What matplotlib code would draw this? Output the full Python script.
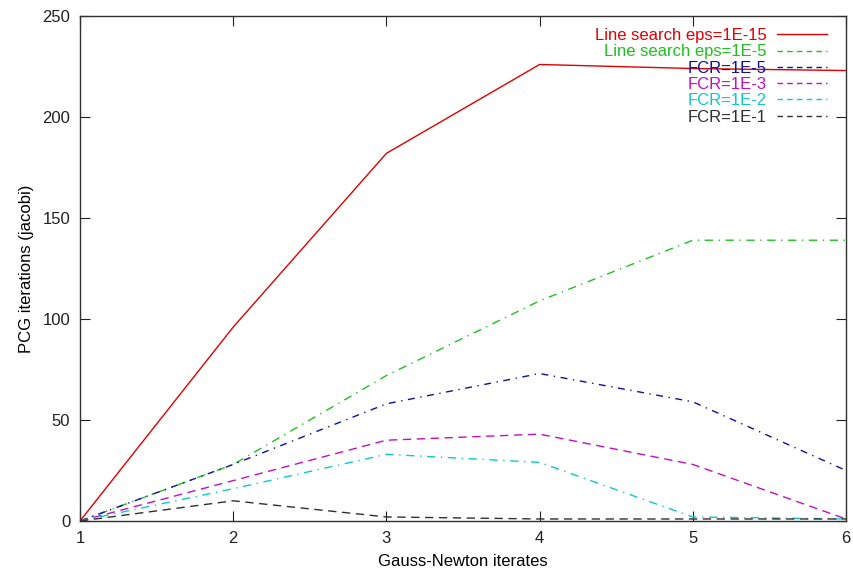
import numpy as np
import matplotlib.pyplot as plt

plt.rcParams['font.family'] = ['Liberation Sans', 'DejaVu Sans']

# Gauss-Newton iterates
x = [1, 2, 3, 4, 5, 6]

# PCG iterations for each run
ls_1e15 = [0, 96, 182, 226, 224, 223]
ls_1e5 = [0, 28, 72, 109, 139, 139]
fcr_1e5 = [0, 28, 58, 73, 59, 25]
fcr_1e3 = [0, 20, 40, 43, 28, 1]
fcr_1e2 = [0, 16, 33, 29, 2, 1]
fcr_1e1 = [0, 10, 2, 1, 1, 1]

labels = ["Line search eps=1E-15", "Line search eps=1E-5", "FCR=1E-5",
          "FCR=1E-3", "FCR=1E-2", "FCR=1E-1"]
series = [ls_1e15, ls_1e5, fcr_1e5, fcr_1e3, fcr_1e2, fcr_1e1]
colors = ["#e00000", "#20c020", "#1010a0", "#c010c0", "#10c8c8", "#303030"]
styles = ["-", (0, (6, 4, 1, 4)), (0, (5, 4, 1, 4)), (0, (6, 4)),
          (0, (6, 4, 1, 4)), (0, (6, 4))]

fig = plt.figure(figsize=(8.54, 5.74), dpi=100)
ax = fig.add_axes([80/854, 53/574, 766/854, 505/574])

for y, c, ls, lab in zip(series, colors, styles, labels):
    ax.plot(x, y, color=c, linestyle=ls, linewidth=1.0, label=lab)

ax.set_xlim(1, 6)
ax.set_ylim(0, 250)
ax.set_xticks(x)
ax.set_yticks(np.arange(0, 251, 50))
ax.tick_params(direction='in', length=7, top=True, right=True,
               labelsize=12, colors='#202020', pad=7)
for s in ax.spines.values():
    s.set_color('#303030')
    s.set_linewidth(1.0)

ax.set_xlabel("Gauss-Newton iterates", fontsize=12, labelpad=6)
ax.set_ylabel("PCG iterations (jacobi)", fontsize=12, labelpad=6)

leg = ax.legend(loc='upper right', frameon=False, markerfirst=False,
                fontsize=12, labelspacing=0.08, handlelength=3.0,
                handletextpad=0.6, borderaxespad=0, borderpad=0,
                bbox_to_anchor=((827 - 80) / 766, 1 - 12 / 505))
for t, c in zip(leg.get_texts(), colors):
    t.set_color(c)
for ln in leg.get_lines()[1:]:
    ln.set_linestyle((0, (4, 3)))

fig.savefig("out.png", dpi=100)
